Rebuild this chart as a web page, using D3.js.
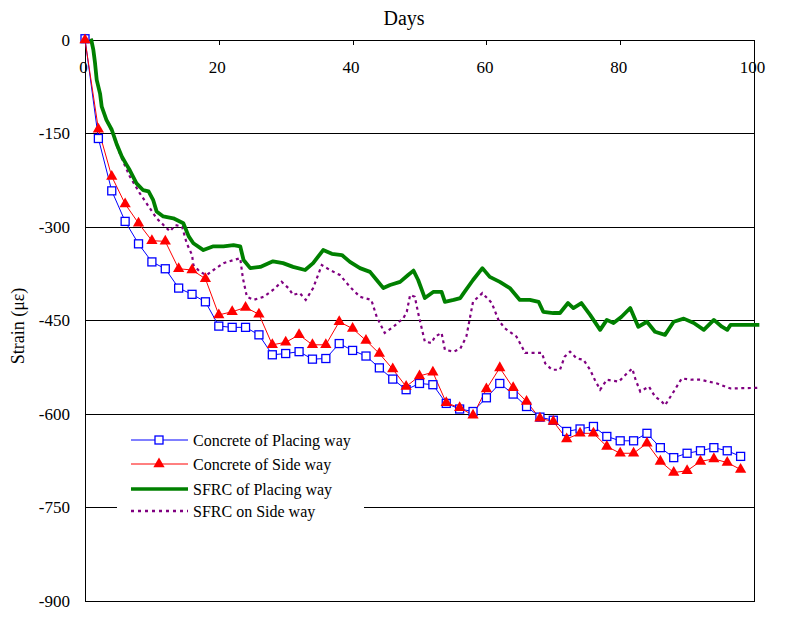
<!DOCTYPE html>
<html>
<head>
<meta charset="utf-8">
<script src="https://cdn.jsdelivr.net/npm/d3@7/dist/d3.min.js"></script>
<style>
  body { margin: 0; background: #fff; }
  svg { display: block; }
  text { font-family: "Liberation Serif", "Times New Roman", serif; fill: #000; }
</style>
</head>
<body>
<svg id="chart" width="786" height="632"></svg>
<script>
// ---------- Data ----------
const xTicks = [0, 20, 40, 60, 80, 100];
const yTicks = [0, -150, -300, -450, -600, -750, -900];

const concreteDays = [0,2,4,6,8,10,12,14,16,18,20,22,24,26,28,30,32,34,36,38,40,42,44,46,48,50,52,54,56,58,60,62,64,66,68,70,72,74,76,78,80,82,84,86,88,90,92,94,96,98];
const concretePlacing = [2,-158,-242,-291,-327,-356,-367,-398,-408,-420,-459,-461,-461,-473,-505,-503,-500,-512,-511,-487,-498,-507,-526,-544,-561,-551,-553,-583,-592,-596,-574,-551,-568,-588,-605,-610,-628,-624,-620,-636,-643,-643,-631,-654,-670,-663,-659,-654,-659,-668];
const concreteSide = [0,-143,-219,-263,-294,-322,-323,-367,-369,-383,-441,-436,-429,-440,-489,-485,-473,-489,-489,-452,-463,-482,-503,-528,-556,-539,-533,-582,-590,-602,-560,-526,-558,-580,-607,-612,-640,-631,-631,-652,-663,-663,-647,-676,-694,-691,-676,-672,-678,-689];

const sfrcPlacingDays = [0.9,1.25,1.5,1.75,2.25,2.5,3.2,4,4.7,5.5,6.2,6.7,7.7,8.7,9.5,10.2,10.7,11.7,13.2,14.7,15.5,16.2,17.7,19.2,20.7,22.2,23.2,23.7,24.7,26.2,28.1,29.6,31.1,32.9,34.1,35.6,36.9,38.4,39.6,41.1,42.6,43.6,44.6,45.6,47.1,48.3,49.1,49.8,50.8,52.1,53.3,53.8,55.1,56.1,56.6,58.0,59.4,60.5,62,63.5,65,66.5,67.8,68.5,70,71,72.2,73,74.2,75.5,77,78,79,80.2,81.5,82.7,84,85.2,86.7,88,89.5,91,92.5,94,95.2,96,96.5,100.8];
const sfrcPlacing = [2,-16,-37,-64,-86,-107,-128,-144,-166,-187,-200,-209,-230,-241,-243,-257,-275,-283,-286,-294,-315,-326,-337,-331,-331,-329,-331,-353,-366,-364,-355,-358,-364,-369,-358,-337,-343,-345,-356,-366,-372,-385,-398,-393,-388,-377,-370,-385,-414,-404,-404,-420,-417,-414,-406,-385,-366,-380,-388,-398,-417,-417,-420,-436,-438,-438,-422,-430,-422,-441,-465,-449,-454,-444,-430,-460,-452,-468,-473,-452,-447,-454,-465,-449,-460,-465,-457,-457];

const sfrcSideDays = [0.9,1.25,1.5,1.75,2.25,2.5,3.2,4,4.7,5.5,6.7,8.2,10.7,12.7,13.5,14.5,15.2,16,16.2,17.2,18.2,19.2,20.7,22.2,23.2,23.6,24.2,25.2,26.7,28.1,29.4,30.4,31.1,32.1,33,34.1,35.4,36.6,38.1,39.6,41.1,42.8,43.6,44.8,46.1,47.6,48.1,48.6,49.3,49.8,50.8,51.8,52.3,53.3,53.8,55.1,56.1,57,58,59.4,60.8,61.8,62.7,64.5,65.8,67,68.3,68.8,69.8,71,71.7,72.5,73.5,74.5,75.5,76.2,77,78,79.8,80.8,81.8,82.3,83,84.3,85.2,86.2,86.7,88,89.2,90.7,92,93.2,94.5,95.7,96.5,100.8];
const sfrcSide = [2,-16,-37,-64,-86,-107,-128,-146,-168,-190,-219,-246,-286,-307,-297,-299,-326,-345,-361,-372,-377,-369,-358,-353,-350,-382,-412,-417,-412,-401,-388,-398,-409,-406,-417,-398,-361,-369,-377,-396,-412,-417,-444,-470,-460,-446,-436,-409,-412,-438,-484,-486,-476,-470,-497,-500,-495,-476,-420,-406,-422,-449,-462,-476,-502,-502,-502,-519,-529,-529,-508,-500,-511,-513,-529,-545,-561,-545,-548,-537,-527,-545,-564,-556,-572,-580,-586,-564,-543,-545,-545,-548,-551,-556,-559,-558];

const legendLabels = ["Concrete of Placing way", "Concrete of Side way", "SFRC of Placing way", "SFRC on Side way"];

// ---------- Chart ----------
const svg = d3.select("#chart");
const L = 85, R = 754, T = 40, B = 601;
const x = d3.scaleLinear().domain([0, 100]).range([L, R]);
const y = d3.scaleLinear().domain([0, -900]).range([T, B]);
const fmt = d => String(d);

// gridlines
svg.append("g").selectAll("line").data(yTicks.filter(v => v !== 0 && v !== -900)).join("line")
  .attr("x1", L).attr("x2", R).attr("y1", d => y(d)).attr("y2", d => y(d))
  .attr("stroke", "#000").attr("stroke-width", 1).attr("shape-rendering", "crispEdges");

// border
svg.append("rect").attr("x", L).attr("y", T).attr("width", R - L).attr("height", B - T)
  .attr("fill", "none").attr("stroke", "#000").attr("stroke-width", 1).attr("shape-rendering", "crispEdges");

// x axis (top, labels inside)
const xAxis = svg.append("g").attr("transform", `translate(0,${T})`)
  .call(d3.axisBottom(x).tickValues(xTicks).tickSize(5).tickPadding(16).tickFormat(fmt));
xAxis.attr("font-family", null);
xAxis.select(".domain").remove();
xAxis.selectAll("line").attr("stroke", "#000").attr("shape-rendering", "crispEdges");
xAxis.selectAll("text").attr("font-size", 17).attr("font-family", "Liberation Serif").attr("dx", -2).attr("fill", "#000");

// y axis
const yAxis = svg.append("g").attr("transform", `translate(${L},0)`)
  .call(d3.axisLeft(y).tickValues(yTicks).tickSize(0).tickPadding(15).tickFormat(fmt));
yAxis.attr("font-family", null);
yAxis.select(".domain").remove();
yAxis.selectAll("text").attr("font-size", 17).attr("font-family", "Liberation Serif").attr("fill", "#000");

// titles
svg.append("text").attr("x", 404).attr("y", 25).attr("text-anchor", "middle").attr("font-size", 20).text("Days");
svg.append("text").attr("transform", "translate(24,326) rotate(-90)").attr("text-anchor", "middle")
  .attr("font-size", 18).text("Strain (με)");

// legend background (covers gridline)
svg.append("rect").attr("x", 117).attr("y", 424).attr("width", 247).attr("height", 98).attr("fill", "#fff");

// lines
const line = d3.line().x(d => x(d[0])).y(d => y(d[1]));
const zip = (a, b) => a.map((v, i) => [v, b[i]]);

svg.append("path").datum(zip(sfrcSideDays, sfrcSide)).attr("d", line)
  .attr("fill", "none").attr("stroke", "#800080").attr("stroke-width", 2.2).attr("stroke-dasharray", "3,3.5");
svg.append("path").datum(zip(sfrcPlacingDays, sfrcPlacing)).attr("d", line)
  .attr("fill", "none").attr("stroke", "#008000").attr("stroke-width", 3.8).attr("stroke-linejoin", "round");

const cpData = zip(concreteDays, concretePlacing);
const csData = zip(concreteDays, concreteSide);
svg.append("path").datum(cpData).attr("d", line).attr("fill", "none").attr("stroke", "#0000FF").attr("stroke-width", 1);
svg.append("path").datum(csData).attr("d", line).attr("fill", "none").attr("stroke", "#FF0000").attr("stroke-width", 1);

svg.append("g").selectAll("rect").data(cpData).join("rect")
  .attr("x", d => x(d[0]) - 4).attr("y", d => y(d[1]) - 4).attr("width", 8).attr("height", 8)
  .attr("fill", "#fff").attr("stroke", "#0000FF").attr("stroke-width", 1.3);
const tri = d3.symbol().type(d3.symbolTriangle).size(55);
svg.append("g").selectAll("path").data(csData).join("path")
  .attr("transform", d => `translate(${x(d[0])},${y(d[1])})`).attr("d", tri).attr("fill", "#FF0000");

// legend
const lg = svg.append("g");
const rowsY = [440, 464, 489, 511];
const lx1 = 131, lx2 = 188, lxm = 159;
lg.append("line").attr("x1", lx1).attr("x2", lx2).attr("y1", rowsY[0]).attr("y2", rowsY[0]).attr("stroke", "#0000FF").attr("stroke-width", 1);
lg.append("rect").attr("x", lxm - 4).attr("y", rowsY[0] - 4).attr("width", 8).attr("height", 8).attr("fill", "#fff").attr("stroke", "#0000FF").attr("stroke-width", 1.3);
lg.append("line").attr("x1", lx1).attr("x2", lx2).attr("y1", rowsY[1]).attr("y2", rowsY[1]).attr("stroke", "#FF0000").attr("stroke-width", 1);
lg.append("path").attr("transform", `translate(${lxm},${rowsY[1]})`).attr("d", tri).attr("fill", "#FF0000");
lg.append("line").attr("x1", lx1).attr("x2", lx2).attr("y1", rowsY[2]).attr("y2", rowsY[2]).attr("stroke", "#008000").attr("stroke-width", 3.5);
lg.append("line").attr("x1", lx1).attr("x2", lx2).attr("y1", rowsY[3]).attr("y2", rowsY[3]).attr("stroke", "#800080").attr("stroke-width", 2.5).attr("stroke-dasharray", "3,4");
lg.selectAll("text").data(legendLabels).join("text")
  .attr("x", 193).attr("y", (d, i) => rowsY[i] + 5.5).attr("font-size", 16).text(d => d);
</script>
</body>
</html>
